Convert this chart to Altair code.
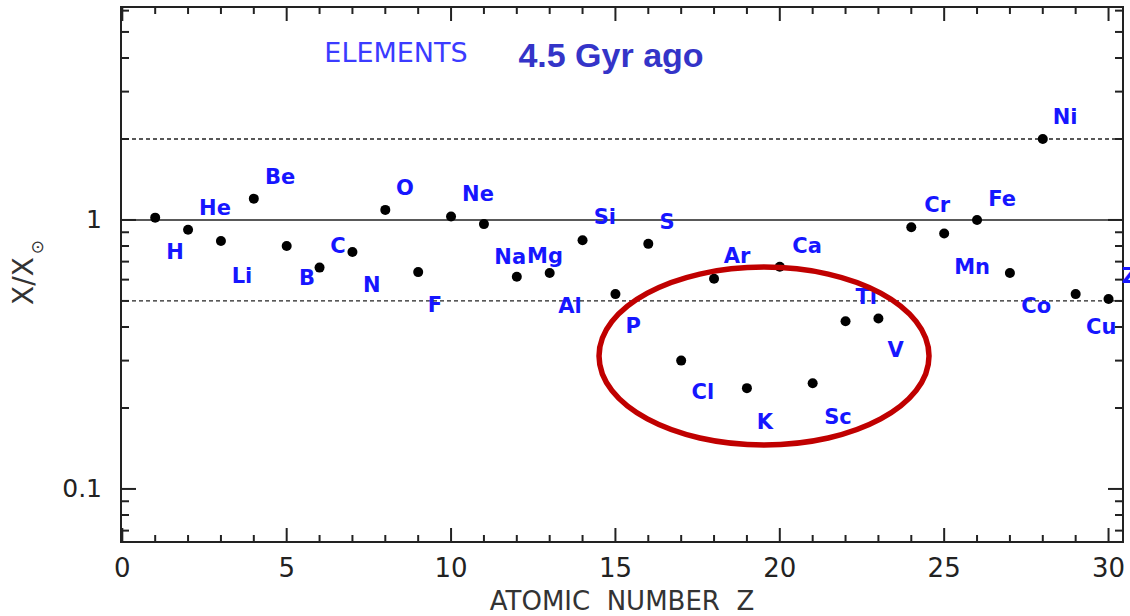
import altair as alt
import pandas as pd

# Element abundances 4.5 Gyr ago, relative to the solar values
elements = ["H", "He", "Li", "Be", "B", "C", "N", "O", "F", "Ne",
            "Na", "Mg", "Al", "Si", "P", "S", "Cl", "Ar", "K", "Ca",
            "Sc", "Ti", "V", "Cr", "Mn", "Fe", "Co", "Ni", "Cu", "Zn"]
atomic_number = [1, 2, 3, 4, 5, 6, 7, 8, 9, 10,
                 11, 12, 13, 14, 15, 16, 17, 18, 19, 20,
                 21, 22, 23, 24, 25, 26, 27, 28, 29, 30]
abundance_ratio = [1.02, 0.92, 0.835, 1.20, 0.80, 0.665, 0.76, 1.09, 0.64, 1.03,
                   0.965, 0.615, 0.635, 0.84, 0.53, 0.815, 0.30, 0.605, 0.237, 0.67,
                   0.247, 0.42, 0.43, 0.94, 0.89, 1.00, 0.635, 2.0, 0.53, 0.508]

# where each element name is written (Z, X/Xsun)
label_z = [1.60, 2.82, 3.64, 4.80, 5.62, 6.56, 7.59, 8.60, 9.51, 10.82,
           11.80, 12.86, 13.62, 14.68, 15.54, 16.57, 17.66, 18.70, 19.55, 20.83,
           21.77, 22.63, 23.52, 24.79, 25.85, 26.76, 27.80, 28.68, 29.78, 30.87]
label_ratio = [0.754, 1.099, 0.614, 1.433, 0.603, 0.794, 0.568, 1.304, 0.479, 1.239,
               0.722, 0.729, 0.475, 1.017, 0.400, 0.975, 0.2275, 0.729, 0.176, 0.794,
               0.1836, 0.513, 0.326, 1.127, 0.663, 1.187, 0.473, 2.394, 0.398, 0.614]

# reference levels: solar, and a factor of two either side
solar_level = [1]
factor_two_levels = [0.5, 2]

# tick marks (drawn inward on all four sides) and their labels
x_major_ticks = [0, 5, 10, 15, 20, 25, 30]
x_minor_ticks = [z for z in range(1, 30) if z % 5]
y_major_ticks = [0.1, 1]
y_minor_ticks = [0.07, 0.08, 0.09, 0.2, 0.3, 0.4, 0.5, 0.6, 0.7, 0.8, 0.9, 2, 3, 4, 5, 6]
x_tick_labels = ["0", "5", "10", "15", "20", "25", "30"]
y_tick_labels = ["0.1", "1"]

# centre of the outline around the depleted odd-Z group (Cl ... V)
group_center_z = [19.52]
group_center_ratio = [0.312]

W, H = 1002, 535
INK = "#222222"
BLUE = "#1616ff"
NUM_FONT = "DejaVu Sans"
NBSP = "\u00a0"

x_scale = alt.Scale(domain=[-0.04, 30.44], nice=False, zero=False)
y_scale = alt.Scale(type="log", domain=[0.0635, 6.19], nice=False)


def xq(field="Z"):
    return alt.X(f"{field}:Q", scale=x_scale, axis=None)


def yq(field="ratio"):
    return alt.Y(f"{field}:Q", scale=y_scale, axis=None)


points = pd.DataFrame({"Z": atomic_number, "ratio": abundance_ratio, "element": elements})
names = pd.DataFrame({"Z": label_z, "ratio": label_ratio, "element": elements})

dashed = alt.Chart(pd.DataFrame({"ratio": factor_two_levels})).mark_rule(
    color=INK, strokeWidth=1.3, strokeDash=[4, 3]
).encode(y=yq())

solid = alt.Chart(pd.DataFrame({"ratio": solar_level})).mark_rule(
    color=INK, strokeWidth=1.6
).encode(y=yq())

dots = alt.Chart(points).mark_circle(size=100, color="black", opacity=1).encode(
    x=xq(), y=yq(),
)

element_names = alt.Chart(names).mark_text(
    font=NUM_FONT, fontSize=21, fontWeight="bold", color=BLUE,
    align="center", baseline="middle",
).encode(x=xq(), y=yq(), text="element:N")

ELLIPSE = "M -1 0 A 1 0.539 0 1 0 1 0 A 1 0.539 0 1 0 -1 0 Z"
outline = alt.Chart(
    pd.DataFrame({"Z": group_center_z, "ratio": group_center_ratio})
).mark_point(
    shape=ELLIPSE, size=108900, filled=False, stroke="#c00000",
    strokeWidth=5.5, opacity=1,
).encode(x=xq(), y=yq())


def x_ticks(values, length):
    rule = alt.Chart(pd.DataFrame({"Z": values})).mark_rule(color=INK, strokeWidth=2)
    bottom = rule.encode(x=xq(), y=alt.value(H), y2=alt.value(H - length))
    top = rule.encode(x=xq(), y=alt.value(0), y2=alt.value(length))
    return [bottom, top]


def y_ticks(values, length):
    rule = alt.Chart(pd.DataFrame({"ratio": values})).mark_rule(color=INK, strokeWidth=2)
    left = rule.encode(y=yq(), x=alt.value(0), x2=alt.value(length))
    right = rule.encode(y=yq(), x=alt.value(W), x2=alt.value(W - length))
    return [left, right]


tick_layers = (x_ticks(x_major_ticks, 14) + x_ticks(x_minor_ticks, 7)
               + y_ticks(y_major_ticks, 15) + y_ticks(y_minor_ticks, 8))

x_labels = alt.Chart(
    pd.DataFrame({"Z": x_major_ticks, "label": x_tick_labels})
).mark_text(
    font=NUM_FONT, fontSize=26, color=INK, align="center", baseline="alphabetic",
).encode(x=xq(), y=alt.value(H + 35), text="label:N")

y_labels = alt.Chart(
    pd.DataFrame({"ratio": y_major_ticks, "label": y_tick_labels})
).mark_text(
    font=NUM_FONT, fontSize=25, color=INK, align="right", baseline="middle",
).encode(x=alt.value(-19), y=yq(), text="label:N")

note = pd.DataFrame({"t": [0]})
x_title = alt.Chart(note).mark_text(
    text=f"ATOMIC{NBSP}{NBSP}NUMBER{NBSP}{NBSP}Z", font=NUM_FONT, fontSize=26,
    color="#333333", align="center", baseline="alphabetic",
).encode(x=alt.value(W / 2), y=alt.value(H + 68))

elements_tag = alt.Chart(note).mark_text(
    text="ELEMENTS", font=NUM_FONT, fontSize=27, color="#3b3bff",
    align="center", baseline="alphabetic",
).encode(x=alt.value(275), y=alt.value(55))

epoch_tag = alt.Chart(note).mark_text(
    text="4.5 Gyr ago", font="Liberation Sans", fontSize=34, fontWeight="bold",
    color="#3434c8", align="center", baseline="alphabetic",
).encode(x=alt.value(490), y=alt.value(60))

y_title = alt.Chart(note).mark_text(
    text="X/X", font=NUM_FONT, fontSize=28, color="#333333", angle=270,
    align="center", baseline="middle",
).encode(x=alt.value(-96), y=alt.value(274))

sun_symbol = alt.Chart(note).mark_text(
    text="⊙", font=NUM_FONT, fontSize=17, color="#333333", angle=270,
    align="center", baseline="middle",
).encode(x=alt.value(-83), y=alt.value(240))

chart = alt.layer(
    dashed, solid, dots, element_names, outline, *tick_layers,
    x_labels, y_labels, x_title, elements_tag, epoch_tag, y_title, sun_symbol,
).properties(
    width=W, height=H,
    autosize=alt.AutoSizeParams(type="none"),
    padding={"left": 121, "top": 7, "right": 7, "bottom": 74},
    background="white",
).configure_view(
    stroke=INK, strokeWidth=2,
)

chart.save("out.html", embed_options={"renderer": "svg", "actions": False})
